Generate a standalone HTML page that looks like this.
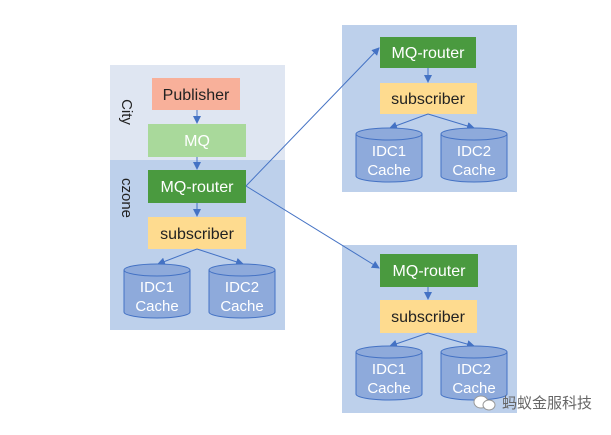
<!DOCTYPE html><html><head><meta charset="utf-8"><style>
body{margin:0;width:611px;height:430px;background:#fff;overflow:hidden;font-family:"Liberation Sans","Noto Sans CJK SC",sans-serif}
</style></head><body>
<svg width="611" height="430" xmlns="http://www.w3.org/2000/svg" font-family="Liberation Sans, Noto Sans CJK SC, sans-serif">
<defs>
<marker id="a" markerWidth="8" markerHeight="8" refX="7" refY="4" orient="auto" markerUnits="userSpaceOnUse"><path d="M0,0 L8,4 L0,8 z" fill="#4472c4"/></marker>
<g id="cyl">
<path d="M0,6 v42 a33,6 0 0 0 66,0 v-42" fill="#8eaadb" stroke="#4472c4" stroke-width="1"/>
<ellipse cx="33" cy="6" rx="33" ry="6" fill="#8eaadb" stroke="#4472c4" stroke-width="1"/>
</g>
</defs>
<rect x="110" y="65" width="175" height="95" fill="#dfe6f2"/>
<rect x="110" y="160" width="175" height="170" fill="#bdd0eb"/>
<text transform="translate(122,112) rotate(90)" text-anchor="middle" font-size="15" fill="#222">City</text>
<text transform="translate(122,198) rotate(90)" text-anchor="middle" font-size="15" fill="#222">czone</text>
<rect x="152" y="78" width="88" height="32" fill="#f8b09a"/>
<text x="196" y="100" text-anchor="middle" font-size="16" fill="#222">Publisher</text>
<rect x="148" y="124" width="98" height="33" fill="#a9d99b"/>
<text x="197" y="146" text-anchor="middle" font-size="16" fill="#fff">MQ</text>
<rect x="148" y="170" width="98" height="33" fill="#4a9a3f"/>
<text x="197" y="192" text-anchor="middle" font-size="16" fill="#fff">MQ-router</text>
<rect x="148" y="217" width="98" height="32" fill="#fedb8f"/>
<text x="197" y="239" text-anchor="middle" font-size="16" fill="#222">subscriber</text>
<g stroke="#4472c4" stroke-width="1" fill="none">
<line x1="197" y1="110" x2="197" y2="123" marker-end="url(#a)"/>
<line x1="197" y1="157" x2="197" y2="169" marker-end="url(#a)"/>
<line x1="197" y1="203" x2="197" y2="216" marker-end="url(#a)"/>
<line x1="197" y1="249" x2="158" y2="264" marker-end="url(#a)"/>
<line x1="197" y1="249" x2="243" y2="264" marker-end="url(#a)"/>
</g>
<use href="#cyl" x="124" y="264"/><use href="#cyl" x="209" y="264"/>
<g font-size="15" fill="#fff" text-anchor="middle"><text x="157" y="292">IDC1</text><text x="157" y="311">Cache</text><text x="242" y="292">IDC2</text><text x="242" y="311">Cache</text></g>

<rect x="342" y="25" width="175" height="167" fill="#bdd0eb"/>
<rect x="380" y="37" width="96" height="31" fill="#4a9a3f"/>
<text x="428" y="58" text-anchor="middle" font-size="16" fill="#fff">MQ-router</text>
<rect x="380" y="83" width="97" height="31" fill="#fedb8f"/>
<text x="428" y="104" text-anchor="middle" font-size="16" fill="#222">subscriber</text>
<g stroke="#4472c4" fill="none"><line x1="428" y1="68" x2="428" y2="82" marker-end="url(#a)"/><line x1="428" y1="114" x2="390" y2="128" marker-end="url(#a)"/><line x1="428" y1="114" x2="474" y2="128" marker-end="url(#a)"/></g>
<use href="#cyl" x="356" y="128"/><use href="#cyl" x="441" y="128"/>
<g font-size="15" fill="#fff" text-anchor="middle"><text x="389" y="156">IDC1</text><text x="389" y="175">Cache</text><text x="474" y="156">IDC2</text><text x="474" y="175">Cache</text></g>

<rect x="342" y="245" width="175" height="168" fill="#bdd0eb"/>
<rect x="380" y="254" width="98" height="33" fill="#4a9a3f"/>
<text x="429" y="276" text-anchor="middle" font-size="16" fill="#fff">MQ-router</text>
<rect x="380" y="300" width="97" height="33" fill="#fedb8f"/>
<text x="428" y="322" text-anchor="middle" font-size="16" fill="#222">subscriber</text>
<g stroke="#4472c4" fill="none"><line x1="428" y1="287" x2="428" y2="299" marker-end="url(#a)"/><line x1="428" y1="333" x2="390" y2="346" marker-end="url(#a)"/><line x1="428" y1="333" x2="474" y2="346" marker-end="url(#a)"/></g>
<use href="#cyl" x="356" y="346"/><use href="#cyl" x="441" y="346"/>
<g font-size="15" fill="#fff" text-anchor="middle"><text x="389" y="374">IDC1</text><text x="389" y="393">Cache</text><text x="474" y="374">IDC2</text><text x="474" y="393">Cache</text></g>

<g stroke="#4472c4" stroke-width="1" fill="none">
<line x1="246" y1="186" x2="379" y2="48" marker-end="url(#a)"/>
<line x1="246" y1="186" x2="379" y2="268" marker-end="url(#a)"/>
</g>

<g fill="#fff" stroke="#999" stroke-width="1"><ellipse cx="481" cy="402" rx="7" ry="6"/><ellipse cx="489" cy="405" rx="6" ry="5"/></g>
<text x="502" y="408" font-size="15" fill="#666" font-family="Noto Sans CJK SC, sans-serif">蚂蚁金服科技</text>
</svg>
</body></html>
